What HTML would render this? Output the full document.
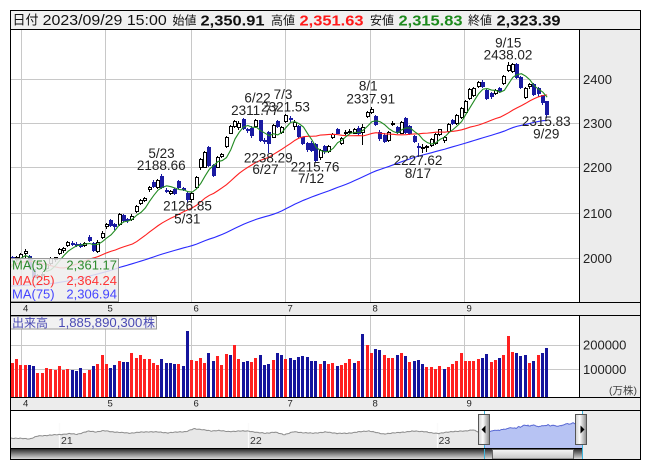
<!DOCTYPE html>
<html><head><meta charset="utf-8">
<style>
html,body{margin:0;padding:0;background:#fff;}
body{width:653px;height:470px;overflow:hidden;position:relative;}
svg{position:absolute;left:0;top:0;font-family:"Liberation Sans","Noto Sans CJK JP",sans-serif;}
</style></head><body>
<svg id="s" xmlns="http://www.w3.org/2000/svg" width="653" height="470" viewBox="0 0 653 470">
<defs>
 <clipPath id="cm"><rect x="11" y="30" width="568" height="272"/></clipPath>
 <clipPath id="cv"><rect x="11" y="316" width="568" height="81"/></clipPath>
 <clipPath id="cn"><rect x="11" y="411" width="571" height="37"/></clipPath>
 <clipPath id="cs"><rect x="484" y="411" width="98" height="37"/></clipPath>
 <clipPath id="cg"><rect x="11" y="411" width="473" height="37"/></clipPath>
 <linearGradient id="gt" x1="0" y1="0" x2="0" y2="1"><stop offset="0" stop-color="#2a2a2a"/><stop offset=".55" stop-color="#8f8f8f"/><stop offset="1" stop-color="#dadada"/></linearGradient>
 <linearGradient id="gh" x1="0" y1="0" x2="1" y2="0"><stop offset="0" stop-color="#cfcfcf"/><stop offset=".4" stop-color="#fbfbfb"/><stop offset="1" stop-color="#8a8a8a"/></linearGradient>
 <linearGradient id="gth" x1="0" y1="0" x2="0" y2="1"><stop offset="0" stop-color="#f6f6f6"/><stop offset="1" stop-color="#c6c6c6"/></linearGradient>
</defs>
<rect x="0" y="0" width="653" height="470" fill="#fff"/>
<!-- header -->
<rect x="10.5" y="10.5" width="630" height="19" fill="#f0f0f0"/>
<text x="12.5" y="24.5" font-size="13" fill="#111">日付</text>
<text x="42.7" y="25" font-size="14.5" fill="#111" textLength="124" lengthAdjust="spacingAndGlyphs">2023/09/29 15:00</text>
<text x="172.5" y="24.5" font-size="12" fill="#111">始値</text>
<text x="200.5" y="25.3" font-size="15" font-weight="bold" fill="#111" textLength="64" lengthAdjust="spacingAndGlyphs">2,350.91</text>
<text x="271" y="24.5" font-size="12" fill="#111">高値</text>
<text x="299.5" y="25.3" font-size="15" font-weight="bold" fill="#ff1a1a" textLength="64" lengthAdjust="spacingAndGlyphs">2,351.63</text>
<text x="370" y="24.5" font-size="12" fill="#111">安値</text>
<text x="398.5" y="25.3" font-size="15" font-weight="bold" fill="#1d8a1d" textLength="64" lengthAdjust="spacingAndGlyphs">2,315.83</text>
<text x="468" y="24.5" font-size="12" fill="#111">終値</text>
<text x="496.5" y="25.3" font-size="15" font-weight="bold" fill="#111" textLength="64" lengthAdjust="spacingAndGlyphs">2,323.39</text>

<!-- main chart -->
<rect x="11" y="30" width="568" height="272" fill="#fff"/>
<rect x="580" y="30" width="60" height="272" fill="#ececec"/>
<g stroke="#c8c8c8" stroke-width="1" shape-rendering="crispEdges">
 <line x1="11" x2="579" y1="79.5" y2="79.5"/>
 <line x1="11" x2="579" y1="123.5" y2="123.5"/>
 <line x1="11" x2="579" y1="167.5" y2="167.5"/>
 <line x1="11" x2="579" y1="213.5" y2="213.5"/>
 <line x1="11" x2="579" y1="258.5" y2="258.5"/>
 <line x1="21.5" x2="21.5" y1="30" y2="302"/>
 <line x1="105.5" x2="105.5" y1="30" y2="302"/>
 <line x1="191.5" x2="191.5" y1="30" y2="302"/>
 <line x1="285.5" x2="285.5" y1="30" y2="302"/>
 <line x1="370.5" x2="370.5" y1="30" y2="302"/>
 <line x1="464.5" x2="464.5" y1="30" y2="302"/>
</g>
<g id="cand" clip-path="url(#cm)" shape-rendering="crispEdges"></g>
<g id="ma" clip-path="url(#cm)" fill="none" stroke-width="1.1"></g>
<g font-size="13.5" fill="#222" text-anchor="middle">
 <text x="161.5" y="157.8">5/23</text>
 <text x="161.3" y="170">2188.66</text>
 <text x="187.5" y="210.7">2126.85</text>
 <text x="187.3" y="223.3">5/31</text>
 <text x="257.5" y="102.5">6/22</text>
 <text x="255" y="115">2311.77</text>
 <text x="283" y="99">7/3</text>
 <text x="285.5" y="111.5">2321.53</text>
 <text x="268.3" y="162.7">2238.29</text>
 <text x="265.5" y="174">6/27</text>
 <text x="315" y="171.7">2215.76</text>
 <text x="311" y="183">7/12</text>
 <text x="368.3" y="90.7">8/1</text>
 <text x="370.8" y="103.3">2337.91</text>
 <text x="418" y="165">2227.62</text>
 <text x="418" y="178">8/17</text>
 <text x="508.3" y="47.3">9/15</text>
 <text x="508" y="59.3">2438.02</text>
 <text x="546.3" y="126">2315.83</text>
 <text x="546.3" y="138.3">9/29</text>
</g>
<!-- MA legend -->
<rect x="10.5" y="258.5" width="108" height="43" fill="#eeeeee" fill-opacity="0.86" stroke="#9a9a9a" shape-rendering="crispEdges"/>
<g font-size="13">
 <text x="12" y="269.7" fill="#2e8b2e">MA(5)</text>
 <text x="117" y="269.7" fill="#2e8b2e" text-anchor="end">2,361.17</text>
 <text x="12" y="285.2" fill="#ff3535">MA(25)</text>
 <text x="117" y="285.2" fill="#ff3535" text-anchor="end">2,364.24</text>
 <text x="12" y="298.7" fill="#4545ff">MA(75)</text>
 <text x="117" y="298.7" fill="#4545ff" text-anchor="end">2,306.94</text>
</g>
<g font-size="13" fill="#222">
 <text x="583" y="84">2400</text>
 <text x="583" y="128">2300</text>
 <text x="583" y="172">2200</text>
 <text x="583" y="218">2100</text>
 <text x="583" y="263">2000</text>
</g>
<!-- top date band -->
<rect x="11" y="303" width="629" height="12" fill="#ececec"/>
<g font-size="9.5" fill="#222">
 <text x="23" y="311.5">4</text><text x="107.5" y="311.5">5</text><text x="193.5" y="311.5">6</text>
 <text x="287.5" y="311.5">7</text><text x="372.5" y="311.5">8</text><text x="466.5" y="311.5">9</text>
</g>
<!-- volume -->
<rect x="11" y="316" width="568" height="81" fill="#fff"/>
<rect x="580" y="316" width="60" height="81" fill="#ececec"/>
<g stroke="#c8c8c8" stroke-width="1" shape-rendering="crispEdges">
 <line x1="11" x2="579" y1="345.5" y2="345.5"/>
 <line x1="11" x2="579" y1="369.5" y2="369.5"/>
 <line x1="21.5" x2="21.5" y1="316" y2="397"/>
 <line x1="105.5" x2="105.5" y1="316" y2="397"/>
 <line x1="191.5" x2="191.5" y1="316" y2="397"/>
 <line x1="285.5" x2="285.5" y1="316" y2="397"/>
 <line x1="370.5" x2="370.5" y1="316" y2="397"/>
 <line x1="464.5" x2="464.5" y1="316" y2="397"/>
</g>
<g id="vol" clip-path="url(#cv)" shape-rendering="crispEdges"></g>
<rect x="10.5" y="316.5" width="146" height="12.5" fill="#f0f0f0" fill-opacity="0.88" stroke="#9a9a9a" shape-rendering="crispEdges"/>
<text x="12" y="327" font-size="12" fill="#4a4ab4">出来高</text>
<text x="58.3" y="327" font-size="12.5" fill="#4a4ab4" textLength="84" lengthAdjust="spacingAndGlyphs">1,885,890,300</text>
<text x="143" y="327" font-size="12" fill="#4a4ab4">株</text>
<g font-size="13" fill="#222">
 <text x="583" y="349.7">200000</text>
 <text x="583" y="374">100000</text>
</g>
<text x="609" y="394" font-size="10.5" fill="#444">(万株)</text>
<!-- bottom date band -->
<rect x="11" y="398" width="629" height="12" fill="#ececec"/>
<g font-size="9.5" fill="#222">
 <text x="23" y="406.5">4</text><text x="107.5" y="406.5">5</text><text x="193.5" y="406.5">6</text>
 <text x="287.5" y="406.5">7</text><text x="372.5" y="406.5">8</text><text x="466.5" y="406.5">9</text>
</g>
<!-- navigator -->
<rect x="11" y="411" width="571" height="37" fill="#fff"/>
<rect x="582" y="411" width="58" height="48" fill="#ececec"/>
<g id="nav"></g>
<g font-size="10.5" fill="#333">
 <text x="61" y="444">21</text>
 <text x="250" y="444">22</text>
 <text x="438.5" y="444">23</text>
</g>
<rect x="11" y="449" width="571" height="10" fill="url(#gt)"/>
<rect x="492.5" y="449.5" width="81" height="9.5" fill="url(#gth)" stroke="#666"/>
<line x1="484.5" x2="484.5" y1="411" y2="459" stroke="#3cb4dc"/>
<line x1="582.5" x2="582.5" y1="411" y2="459" stroke="#3cb4dc"/>
<rect x="478.5" y="414.5" width="11" height="30" fill="url(#gh)" stroke="#555"/>
<polygon points="481.5,429.5 485.5,425.5 485.5,433.5" fill="#000"/>
<rect x="575.5" y="414.5" width="11" height="30" fill="url(#gh)" stroke="#555"/>
<polygon points="584.5,429.5 580.5,425.5 580.5,433.5" fill="#000"/>
<!-- frame -->
<g stroke="#000" stroke-width="1" fill="none" shape-rendering="crispEdges">
 <rect x="10.5" y="10.5" width="630" height="449"/>
 <line x1="10.5" x2="640.5" y1="29.5" y2="29.5"/>
 <line x1="10.5" x2="640.5" y1="302.5" y2="302.5"/>
 <line x1="10.5" x2="640.5" y1="315.5" y2="315.5"/>
 <line x1="10.5" x2="640.5" y1="397.5" y2="397.5"/>
 <line x1="10.5" x2="640.5" y1="410.5" y2="410.5"/>
 <line x1="10.5" x2="582" y1="448.5" y2="448.5"/>
 <line x1="579.5" x2="579.5" y1="29.5" y2="302.5"/>
 <line x1="579.5" x2="579.5" y1="315.5" y2="397.5"/>
</g>
</svg>
<script>
(function(){
var NS="http://www.w3.org/2000/svg";
function E(t,a,p){var e=document.createElementNS(NS,t);for(var k in a)e.setAttribute(k,a[k]);p.appendChild(e);return e;}
var X0=21.3,DX=4.275;
function xi(i){return X0+i*DX;}
function yp(p){return 79.3+(2400-p)*0.4475;}
var C=[
[1995,2004,1990,2002],[2003,2006,1995,2000],[1998,2006,1995,2003.5],
[2000,2012,1998,2010],[2012,2021,2004,2016],[2005,2007,1978,1980],[1975,1978,1952,1958],[1958,1966,1953,1962],
[1962,1970,1957,1966],[1978,1990,1975,1988],[1990,2002,1986,2000],[1998,2004,1994,2002],[2012,2022,2010,2020],
[2018,2026,2014,2023],[2030,2039,2028,2036],[2035,2038,2029,2032],[2033,2036,2027,2030],[2031,2034,2025,2028],
[2030,2037,2028,2035],[2048,2052,2038,2040],[2034,2036,2016,2018],[2016,2040,2014,2037],[2048,2060,2046,2057],
[2072,2078,2068,2076],[2086,2088,2072,2074],[2076,2080,2066,2072],[2077,2102,2075,2099],[2097,2100,2084,2086],
[2088,2090,2082,2085],[2087,2098,2085,2095],[2106,2119,2104,2117],[2124,2132,2121,2130],[2131,2137,2128,2135],
[2155,2162,2150,2160],[2171,2175,2160,2162],[2160,2178,2158,2176],[2185,2188.66,2158,2160],[2153,2156,2148,2152],
[2146,2153,2143,2150],[2155,2158,2144,2146],[2173,2175,2158,2160],[2158,2160,2152,2156],[2145,2148,2126.85,2132],
[2132,2148,2128,2146],[2160,2184,2158,2182],[2204,2225,2200,2222],[2205,2240,2203,2238],[2249,2252,2206,2208],
[2208,2210,2184,2186],[2205,2229,2203,2227],[2229,2235,2227,2233],[2251,2273,2249,2271],[2281,2298,2279,2296],
[2296,2309,2293,2307],[2293,2306,2290,2303],[2311,2313,2289,2291],[2289,2292,2283,2287],[2291,2295,2272,2275],
[2296,2311.77,2294,2309],[2309,2310,2262,2264],[2265,2268,2258,2263],[2283,2285,2238.29,2258],[2272,2300,2270,2298],
[2307,2310,2294,2296],[2283,2296,2280,2294],
[2307,2321.53,2305,2320],[2314,2318,2306,2311],[2296,2308,2290,2305],[2296,2298,2271,2273],[2270,2272,2255,2258],
[2258,2260,2240,2244],[2258,2262,2240,2242],[2255,2257,2215.76,2220],[2226,2245,2222,2242],[2251,2253,2236,2240],
[2240,2254,2237,2251],[2271,2280,2268,2278],[2289,2291,2279,2281],[2258,2271,2255,2269],[2281,2286,2278,2283],
[2283,2288,2280,2285],[2281,2292,2279,2289],[2292,2295,2278,2281],[2282,2300,2255,2294],[2318,2330,2316,2328],
[2328,2337.91,2325,2334],[2318,2320,2298,2300],[2283,2286,2265,2268],[2276,2280,2260,2263],[2264,2285,2262,2283],
[2300,2306,2298,2303],[2293,2296,2280,2283],[2281,2307,2279,2305],[2313,2315,2281,2283],[2296,2298,2278,2281],
[2273,2275,2260,2263],[2252,2258,2227.62,2250],[2246,2255,2238,2248],[2248,2254,2240,2250],[2253,2268,2250,2266],
[2258,2280,2255,2278],[2278,2290,2276,2288],[2264,2273,2260,2271],[2285,2302,2283,2300],[2309,2311,2300,2302],
[2303,2322,2301,2320],[2316,2337,2314,2335],
[2328,2354,2326,2352],[2358,2380,2356,2378],[2365,2382,2362,2380],[2385,2397,2383,2395],[2395,2398,2383,2385],
[2376,2378,2356,2358],[2370,2372,2358,2362],[2369,2378,2367,2376],[2380,2382,2372,2374],[2391,2409,2389,2407],
[2421,2438.02,2418,2432],[2419,2436,2416,2434],[2434,2436,2404,2406],[2406,2408,2381,2383],[2361,2382,2359,2380],
[2384,2391,2380,2389],[2389,2392,2364,2368],[2380,2383,2362,2370],[2364,2366,2345,2350],[2350.91,2351.63,2315.83,2323.39]
];
var V=[120,127,142,
118,118,-118,-114,86,86,105,100,97,114,97,101,-97,-93,-105,86,97,-114,122,159,
122,-105,-118,134,-130,-130,167,146,160,142,142,127,118,-142,-127,-127,-122,122,-114,-258,
138,134,146,127,-167,-134,155,118,163,-159,200,142,-130,-134,130,146,-159,-118,-122,138,-167,-159,
142,-146,-138,-151,-155,-151,-134,-134,122,-134,122,126,-114,118,126,142,-126,134,-245,200,
167,-183,-179,159,146,146,-159,167,-155,130,-134,-138,-122,109,109,101,113,-101,108,122,134,168,
134,134,134,142,-145,-163,130,138,-145,159,238,171,-167,-155,-159,126,-134,159,-167,-186];
var P=[1960,1965,1975,1960,1965,1973,1961,1935,1925,1895,1894,1914,1905,1903,1910,1900,1893,1892,
1823,1834,1841,1855,1868,1874,1863,1844,1848,1890,1878,1880,1901,1910,1911,1920,1923,1929,1930,
1938,1937,1944,1953,1950,1953,1945,1943,1936,1940,1943,1960,1953,1957,1952,1940,1955,1956,1954,
2001,2005,2032,2045,2056,2067,2068,2031,1985,1940,1954,1929,1960,1932,1955,1960,1953,1975,1988,2002,2000,2003.5];
var full=P.concat(C.slice(3).map(function(d){return d[3];}));
var BL='#1a1aa2';
var gc=document.getElementById('cand');
C.forEach(function(d,k){
 var i=k-3,xc=Math.round(xi(i));
 var o=d[0],h=d[1],l=d[2],c=d[3];
 var yo=Math.round(yp(o)),yc=Math.round(yp(c)),yh=Math.round(yp(h)),yl=Math.round(yp(l));
 var up=c>=o,col=up?'#000':BL;
 E('line',{x1:xc-0.5,x2:xc-0.5,y1:yh,y2:yl+1,stroke:col,'stroke-width':1},gc);
 var t=Math.min(yo,yc),b=Math.max(yo,yc);
 if(up){E('rect',{x:xc-1.5,y:t+0.5,width:3,height:Math.max(b-t,1),fill:'#fff',stroke:'#000','stroke-width':1},gc);}
 else{E('rect',{x:xc-2,y:t,width:4,height:Math.max(b-t+1,2),fill:BL},gc);}
});
var gm=document.getElementById('ma');
function ma(n,color){
 var pts=[];
 for(var k=75;k<full.length;k++){
  var s=0;for(var j=k-n+1;j<=k;j++)s+=full[j];
  var i=k-78;pts.push(xi(i).toFixed(2)+','+yp(s/n).toFixed(2));
 }
 E('polyline',{points:pts.join(' '),stroke:color},gm);
}
ma(75,'#2a2aff');ma(25,'#ff2020');ma(5,'#228b22');
var gv=document.getElementById('vol');
V.forEach(function(v,k){
 var i=k-3,xc=Math.round(xi(i));
 var y=Math.round(393.6-Math.abs(v)*0.243);
 E('rect',{x:xc-2,y:y,width:3,height:397-y,fill:v>0?'#ff2020':'#14149c'},gv);
});
// navigator
var A=[[2020.70,1620],[2020.76,1605],[2020.83,1575],[2020.87,1720],[2020.93,1770],[2020.99,1805],[2021.04,1855],[2021.08,1815],[2021.12,1935],[2021.14,1985],[2021.18,1945],[2021.22,2010],[2021.26,1960],[2021.31,1915],[2021.36,1880],[2021.41,1925],[2021.46,1955],[2021.51,1940],[2021.56,1895],[2021.62,1945],[2021.66,1965],[2021.70,2115],[2021.74,2080],[2021.79,1990],[2021.83,2030],[2021.88,1960],[2021.93,1990],[2021.99,1995],[2022.04,1905],[2022.08,1880],[2022.13,1930],[2022.18,1800],[2022.23,1955],[2022.28,1905],[2022.33,1875],[2022.40,1940],[2022.46,1870],[2022.51,1865],[2022.57,1945],[2022.63,2000],[2022.70,1835],[2022.75,1880],[2022.81,1935],[2022.87,1990],[2022.92,1965],[2022.96,1890],[2023.00,1870],[2023.08,1975],[2023.14,1990],[2023.18,2065],[2023.21,1935],[2023.25,2005]];
function nx(t){return 62+(t-2021)*188.5;}
function ny(p){return 468.3-p*0.0187;}
var pts=[];
var xs=11,xe=486.4;
for(var x=xs;x<=xe;x+=1){
 var t=2021+(x-62)/188.5,p;
 if(t<=A[0][0])p=A[0][1];else{
  for(var a=0;a<A.length-1;a++){if(t>=A[a][0]&&t<=A[a+1][0]){var f=(t-A[a][0])/(A[a+1][0]-A[a][0]);p=A[a][1]+f*(A[a+1][1]-A[a][1]);break;}}
  if(p===undefined)p=A[A.length-1][1];
 }
 p+=12*Math.sin(x*1.3)+8*Math.sin(x*2.9+1)+6*Math.sin(x*0.37);
 pts.push([x,ny(p)]);
}
for(var i=1;i<=123;i++){pts.push([486.4+i*0.756,ny(full[78+i])]);}
pts.push([582,ny(full[full.length-1])]);
var line=pts.map(function(q){return q[0].toFixed(2)+','+q[1].toFixed(2);}).join(' ');
var area='M11,448 L'+line.split(' ').join(' L')+' L582,448 Z';
var gn=document.getElementById('nav');
var g1=E('g',{'clip-path':'url(#cg)'},gn);
E('path',{d:area,fill:'#e8e8e8'},g1);
[59.5,248.5,437.5].forEach(function(x){E('line',{x1:x,x2:x,y1:423,y2:448,stroke:'#fafafa','stroke-width':1.2},g1);});
E('polyline',{points:line,fill:'none',stroke:'#8c8c8c','stroke-width':1},g1);
var g2=E('g',{'clip-path':'url(#cs)'},gn);
E('path',{d:area,fill:'#b7c3f3'},g2);
E('polyline',{points:line,fill:'none',stroke:'#5a6ad4','stroke-width':1},g2);
})();
</script>
</body></html>
